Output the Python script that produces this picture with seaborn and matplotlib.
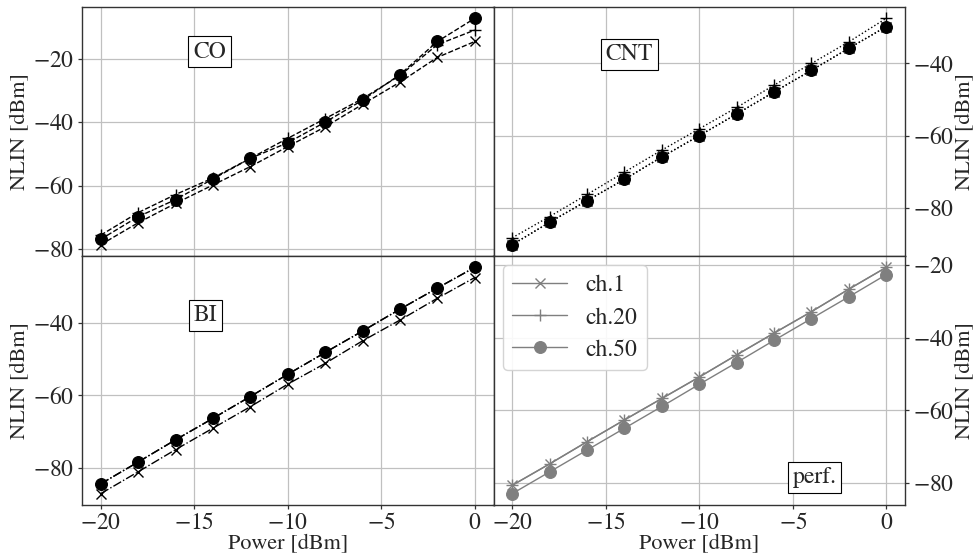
import numpy as np
import pandas as pd
import matplotlib
matplotlib.use("Agg")
import matplotlib.pyplot as plt
import seaborn as sns
from matplotlib.ticker import MultipleLocator, FuncFormatter

# ---- data ----
power = [-20, -18, -16, -14, -12, -10, -8, -6, -4, -2, 0]
channels = ["ch.1", "ch.20", "ch.50"]

co_ch1 = [-78.6, -71.7, -65.6, -59.8, -54.0, -47.7, -41.5, -34.4, -27.4, -19.6, -14.6]
co_ch20 = [-75.6, -68.5, -62.8, -57.6, -51.4, -45.1, -38.9, -32.6, -25.3, -15.6, -11.0]
co_ch50 = [-76.9, -69.8, -64.4, -57.9, -51.4, -46.5, -40.0, -33.1, -25.0, -14.6, -7.3]

cnt_ch1 = [-90.2, -84.0, -78.0, -72.1, -65.9, -60.0, -54.0, -47.9, -41.9, -35.8, -29.8]
cnt_ch20 = [-88.3, -82.4, -76.3, -70.1, -64.0, -58.1, -52.2, -46.0, -40.0, -34.0, -27.5]
cnt_ch50 = [-90.2, -84.0, -78.0, -72.1, -65.9, -60.0, -54.0, -47.9, -41.9, -35.8, -29.8]

bi_ch1 = [-87.0, -81.0, -74.9, -69.0, -63.1, -56.9, -51.2, -45.0, -39.3, -33.3, -27.6]
bi_ch20 = [-84.3, -78.3, -72.2, -66.3, -60.3, -54.2, -48.2, -42.3, -36.3, -30.5, -24.8]
bi_ch50 = [-84.3, -78.3, -72.2, -66.3, -60.3, -54.2, -48.2, -42.3, -36.3, -30.5, -24.8]

perf_ch1 = [-80.6, -74.7, -68.6, -62.6, -56.7, -50.8, -44.7, -38.7, -32.8, -26.6, -20.6]
perf_ch20 = [-80.6, -74.7, -68.6, -62.6, -56.7, -50.8, -44.7, -38.7, -32.8, -26.6, -20.6]
perf_ch50 = [-82.9, -76.9, -70.9, -64.9, -58.9, -52.8, -46.8, -40.7, -34.7, -28.7, -22.6]

panel_names = ["CO", "CNT", "BI", "perf."]
xlabel = "Power [dBm]"
ylabel = "NLIN [dBm]"

# ---- style ----
sns.set_theme(style="ticks")
plt.rcParams["font.family"] = ["STIXGeneral", "Liberation Serif", "DejaVu Serif"]
plt.rcParams["mathtext.fontset"] = "stix"
plt.rcParams["axes.unicode_minus"] = True
FS = 16

fig, axes = plt.subplots(2, 2, figsize=(9.75, 5.59), dpi=100, sharex=True)
fig.subplots_adjust(left=82 / 975, right=905 / 975, top=1 - 7 / 559,
                    bottom=1 - 505 / 559, hspace=0, wspace=0)

markers = {"ch.1": ("x", 7.5), "ch.20": ("+", 9), "ch.50": ("o", 8.5)}

panels = [
    (axes[0, 0], [co_ch1, co_ch20, co_ch50], "--", "black"),
    (axes[0, 1], [cnt_ch1, cnt_ch20, cnt_ch50], ":", "black"),
    (axes[1, 0], [bi_ch1, bi_ch20, bi_ch50], "-.", "black"),
    (axes[1, 1], [perf_ch1, perf_ch20, perf_ch50], "-", "#7f7f7f"),
]
label_pos = [(0.31, 0.82), (0.33, 0.81), (0.30, 0.76), (0.78, 0.11)]

tickfmt = FuncFormatter(lambda v, p: f"${v:g}$")

for (ax, series, ls, col), name, (lx, ly) in zip(panels, panel_names, label_pos):
    for ch, vals in zip(channels, series):
        mk, ms = markers[ch]
        df = pd.DataFrame({"power": power, "nlin": vals})
        sns.lineplot(data=df, x="power", y="nlin", ax=ax, color=col,
                     linestyle=ls, linewidth=1.0, marker=mk, markersize=ms,
                     markeredgewidth=1.0 if mk != "o" else 0.8,
                     markeredgecolor=col, label=ch, legend=False)
    ax.grid(True, color="#c0c0c0", linewidth=0.9)
    ax.set_axisbelow(True)
    ax.yaxis.set_major_locator(MultipleLocator(20))
    ax.xaxis.set_major_locator(MultipleLocator(5))
    ax.xaxis.set_major_formatter(tickfmt)
    ax.yaxis.set_major_formatter(tickfmt)
    ax.tick_params(labelsize=FS + 1, direction="out", length=3, width=0.9,
                   color="#333333", pad=2.5)
    for sp in ax.spines.values():
        sp.set_color("#333333")
        sp.set_linewidth(1.0)
    ax.set_xlabel("")
    ax.set_ylabel(ylabel, fontsize=FS, labelpad=2)
    ax.text(lx, ly, name, transform=ax.transAxes, fontsize=FS + 1,
            ha="center", va="center",
            bbox=dict(boxstyle="square,pad=0.2", fc="white", ec="black",
                      lw=0.8))

for ax in axes[:, 1]:
    ax.yaxis.tick_right()
    ax.yaxis.set_label_position("right")
    ax.set_ylabel(ylabel, fontsize=FS, labelpad=1)

for ax in axes[1, :]:
    ax.set_xlabel(xlabel, fontsize=FS, labelpad=0)

axes[0, 0].set_xlim(-21, 1)

leg = axes[1, 1].legend(loc="upper left", fontsize=FS + 1, frameon=True,
                        handlelength=2.3, borderaxespad=0.4, labelspacing=0.45)
leg.get_frame().set_edgecolor("#d0d0d0")
leg.get_frame().set_alpha(0.9)

fig.savefig("out.png", dpi=100)
